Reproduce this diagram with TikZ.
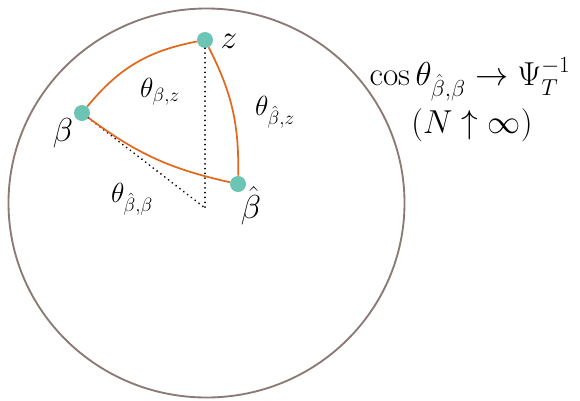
\documentclass[tikz,border=0pt]{standalone}
\usepackage{amsmath,amssymb}
\usetikzlibrary{positioning,calc}

\definecolor{rimgray}{RGB}{140,122,118}
\definecolor{arcorange}{RGB}{226,104,28}
\definecolor{dotteal}{RGB}{108,196,180}

\begin{document}
\begin{tikzpicture}[
  x=0.75pt, y=-0.75pt,
  point/.style={circle, fill=dotteal, draw=none, minimum size=12pt, inner sep=0pt},
  geod/.style={draw=arcorange, line width=1.3pt},
  guide/.style={dash pattern=on 0.01pt off 3.6pt, line cap=round, line width=1.5pt, black},
  ptlabel/.style={font=\fontsize{24}{28}\selectfont, inner sep=0pt},
  anglabel/.style={font=\fontsize{21}{24}\selectfont, inner sep=0pt},
  limitlabel/.style={font=\fontsize{25}{30}\selectfont, inner sep=0pt}
]
% 580 by 400 canvas
\path[use as bounding box] (0,0) rectangle (580,400);

% Sphere outline
\draw[rimgray, line width=1.4pt] (206.5,203) ellipse [x radius=198, y radius=194.5];

% Vertices of the spherical triangle
\node[point] (z) at (205,40) {};
\node[point] (beta) at (82,113) {};
\node[point] (betahat) at (238,184) {};
\coordinate (foot) at (205,208);

% Dotted guides to the foot point
\draw[guide] (z) -- (foot);
\draw[guide] (beta) -- (foot);

% Geodesic edges
\draw[geod] (beta) to[bend left=20] (z);
\draw[geod] (z) to[bend left=14] (betahat);
\draw[geod] (betahat) to[bend left=12] (beta);

% Vertex labels
\node[ptlabel] (zlab) at (229,41) {$z$};
\node[ptlabel] (betalab) at (63,133) {$\beta$};
\node[ptlabel] (betahatlab) at (251,206) {$\hat{\beta}$};

% Angle labels
\node[anglabel] (tbz) at (160,92) {$\theta_{\beta,z}$};
\node[anglabel] (tbhz) at (275,112) {$\theta_{\hat{\beta},z}$};
\node[anglabel] (tbhb) at (132,199) {$\theta_{\hat{\beta},\beta}$};

% Limit statement
\node[limitlabel] (limit) at (470,79) {$\cos\theta_{\hat{\beta},\beta} \rightarrow \Psi_T^{-1}$};
\node[limitlabel] (regime) at (472,125) {$(N \uparrow \infty)$};
\end{tikzpicture}
\end{document}
